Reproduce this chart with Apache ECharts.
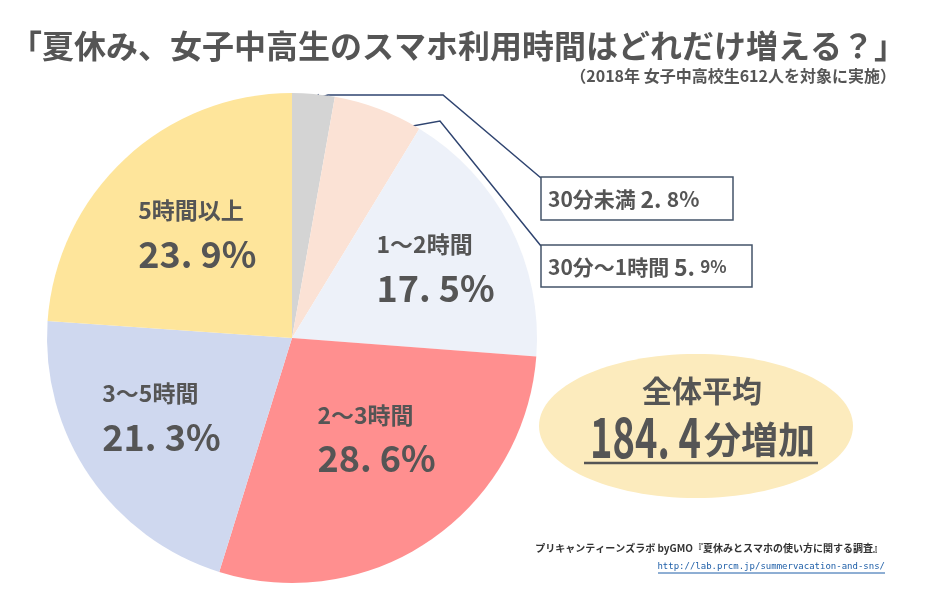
<!DOCTYPE html>
<html><head><meta charset="utf-8">
<script src="https://cdn.jsdelivr.net/npm/echarts@6/dist/echarts.min.js"></script>
<style>html,body{margin:0;padding:0;background:#fff}#c{width:934px;height:610px}</style>
</head><body><div id="c"></div>
<script>
var categories = ['30分未満', '30分～1時間', '1～2時間', '2～3時間', '3～5時間', '5時間以上'];
var values = [2.8, 5.9, 17.5, 28.6, 21.3, 23.9];
var sliceColors = ['#d4d4d4', '#fbe2d5', '#edf1f9', '#ff8f8f', '#cfd8ef', '#fee59b'];
var insideLabelOffsets = [null, null, [32, -10], [14, -1], [-27, 10], [-9, -10]];
var averageTitle = '全体平均';
var averageNumber = '184. 4';
var averageUnit = '分増加';

var TXT = '#555555';
var CJK = '"Noto Sans CJK JP", sans-serif';
function pct(v){ return v.toFixed(1).replace('.', '. '); }

var data = categories.map(function(c, i){
  var d = { name: c, value: values[i], itemStyle: { color: sliceColors[i] } };
  if (!insideLabelOffsets[i]) { d.label = { show: false }; }
  else { d.label = { offset: insideLabelOffsets[i] }; }
  return d;
});

var chart = echarts.init(document.getElementById('c'), null, {renderer: 'canvas'});
var lineC = '#2f4470';
function boxText(i, x, y, cSize){
  var p = pct(values[i]).split(' ');
  return { type: 'text', x: x, y: y, style: {
      text: '{a|' + categories[i] + ' }{b|' + p[0] + ' }{c|' + p[1] + '%}',
      verticalAlign: 'middle',
      rich: { a: { fontFamily: CJK, fontSize: 21, fontWeight: 'bold', fill: TXT },
              b: { fontFamily: CJK, fontSize: 23, fontWeight: 'bold', fill: TXT },
              c: { fontFamily: CJK, fontSize: cSize, fontWeight: 'bold', fill: TXT } } } };
}
chart.setOption({
  backgroundColor: '#fff',
  animation: false,
  title: [
    { text: '「夏休み、女子中高生のスマホ利用時間はどれだけ増える？」', left: 5, top: 25,
      textStyle: { fontFamily: CJK, fontSize: 32, fontWeight: 'bold', color: TXT } },
    { text: '（2018年 女子中高校生612人を対象に実施）', right: 33, top: 63,
      textStyle: { fontFamily: CJK, fontSize: 16, fontWeight: 'bold', color: TXT } }
  ],
  series: [{
    type: 'pie',
    center: [292, 338],
    radius: [0, 245],
    startAngle: 90,
    clockwise: true,
    silent: true,
    data: data,
    itemStyle: { borderWidth: 0 },
    labelLine: { show: false },
    label: {
      show: true, position: 'inside',
      formatter: function(p){ return '{n|' + p.name + '}\n{p|' + pct(p.value) + '%}'; },
      rich: {
        n: { fontFamily: CJK, fontSize: 23, fontWeight: 'bold', color: TXT, lineHeight: 36, align: 'left' },
        p: { fontFamily: CJK, fontSize: 36, fontWeight: 'bold', color: TXT, lineHeight: 52, align: 'left' }
      }
    }
  }],
  graphic: [
    { type: 'polyline', shape: { points: [[541, 178], [443, 95], [328, 95], [316, 98.5]] },
      style: { stroke: lineC, lineWidth: 1.5, fill: null } },
    { type: 'polygon', shape: { points: [[311, 100], [318.6, 93.8], [320.8, 101.5]] }, style: { fill: lineC } },
    { type: 'polyline', shape: { points: [[541, 246], [440, 121], [396, 129]] },
      style: { stroke: lineC, lineWidth: 1.5, fill: null } },
    { type: 'polygon', shape: { points: [[390, 130], [398.2, 124.5], [399.6, 132.3]] }, style: { fill: lineC } },
    { type: 'rect', shape: { x: 541, y: 177, width: 192, height: 43 }, style: { fill: '#fff', stroke: '#44546a', lineWidth: 1.5 } },
    boxText(0, 548, 199, 21),
    { type: 'rect', shape: { x: 541, y: 245, width: 211, height: 42 }, style: { fill: '#fff', stroke: '#44546a', lineWidth: 1.5 } },
    boxText(1, 548, 267, 17),
    { type: 'ellipse', shape: { cx: 696, cy: 426, rx: 157, ry: 72 }, style: { fill: '#fcebbd' } },
    { type: 'text', x: 702, y: 391, style: { text: averageTitle, align: 'center', verticalAlign: 'middle',
        fontFamily: CJK, fontSize: 30, fontWeight: 'bold', fill: TXT } },
    { type: 'text', x: 701, y: 437, scaleX: 0.68, style: { text: averageNumber, align: 'right', verticalAlign: 'middle',
        fontFamily: CJK, fontSize: 56, fontWeight: 'bold', fill: TXT } },
    { type: 'text', x: 704, y: 440, style: { text: averageUnit, align: 'left', verticalAlign: 'middle',
        fontFamily: CJK, fontSize: 37, fontWeight: 'bold', fill: TXT } },
    { type: 'line', shape: { x1: 584, y1: 463, x2: 818, y2: 463 }, style: { stroke: TXT, lineWidth: 2.5 } },
    { type: 'text', x: 883, y: 548, style: { text: 'プリキャンティーンズラボ byGMO『夏休みとスマホの使い方に関する調査』',
        align: 'right', verticalAlign: 'middle', fontFamily: CJK, fontSize: 10, fontWeight: 'bold', fill: '#333' } },
    { type: 'text', x: 885, y: 567, style: { text: 'http://lab.prcm.jp/summervacation-and-sns/',
        align: 'right', verticalAlign: 'middle', fontFamily: '"DejaVu Sans Mono", monospace', fontSize: 9, fill: '#1f5fa8' } },
    { type: 'line', shape: { x1: 658, y1: 573, x2: 885, y2: 573 }, style: { stroke: '#1f5fa8', lineWidth: 1 } }
  ]
});
</script></body></html>
